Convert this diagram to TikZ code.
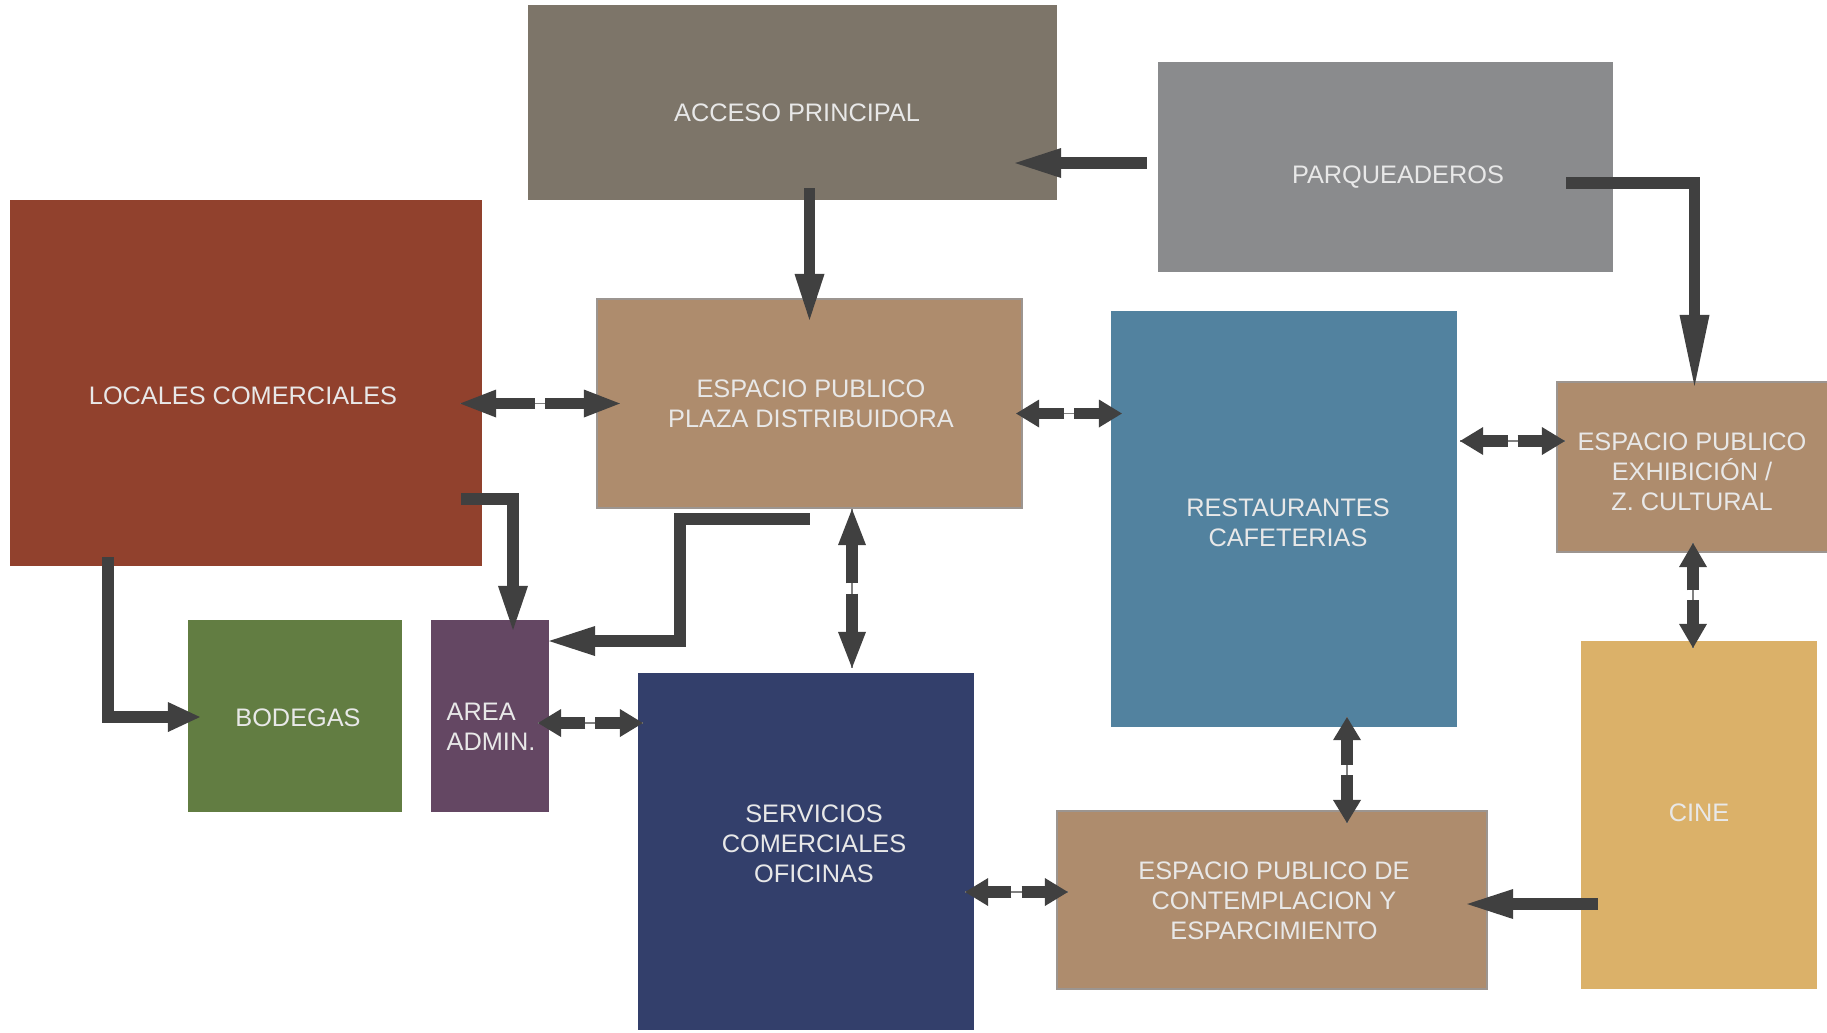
\documentclass[tikz,border=0pt]{standalone}
\usepackage{fontspec}
\setmainfont{Liberation Sans}
\usetikzlibrary{arrows.meta,calc}

\definecolor{accesogray}{HTML}{7D7569}
\definecolor{parqgray}{HTML}{8A8B8D}
\definecolor{localesred}{HTML}{91412D}
\definecolor{plazatan}{HTML}{AE8C6D}
\definecolor{tanline}{HTML}{9C9590}
\definecolor{restblue}{HTML}{52829F}
\definecolor{cineyellow}{HTML}{DBB169}
\definecolor{bodegagreen}{HTML}{627D42}
\definecolor{adminplum}{HTML}{644763}
\definecolor{servnavy}{HTML}{333F6B}
\definecolor{arrowdark}{HTML}{404040}
\definecolor{labelgray}{HTML}{E8E8E8}

\newcommand{\zonefont}{\fontsize{7.2}{8.6}\selectfont}

\tikzset{
  zone/.style={rectangle, inner sep=0pt, outer sep=0pt, fill=#1},
  tanzone/.style={zone=plazatan, draw=tanline, line width=0.6pt},
  txt/.style={text=labelgray, font=\zonefont, align=center, inner sep=0pt},
  way/.style={draw=arrowdark, line width=3.3pt},
  hairline/.style={draw=gray, line width=0.4pt},
  onetip/.style={-{Triangle[length=#1, width=3mm, line width=0pt]}},
}

% two opposed arrows, hairline in the gap between them
\newcommand{\twoway}[3][2.3mm]{%
  \draw[hairline] (#2) -- (#3);
  \coordinate (mid) at ($(#2)!.5!(#3)$);
  \draw[way,-{Triangle[length=#1, width=2.8mm, line width=0pt]}] ($(mid)!.05cm!(#2)$) -- (#2);
  \draw[way,-{Triangle[length=#1, width=2.8mm, line width=0pt]}] ($(mid)!.05cm!(#3)$) -- (#3);
}

\begin{document}
\begin{tikzpicture}[x=0.01cm,y=-0.01cm]
\fill[white] (0,0) rectangle (1827,1032);
\useasboundingbox (0,0) rectangle (1827,1032);

% zones
\node[zone=accesogray, minimum width=52.9mm, minimum height=19.5mm] (acceso) at (792.5,102.5) {};
\node[zone=parqgray, minimum width=45.5mm, minimum height=21mm] (parq) at (1385.5,167) {};
\node[zone=localesred, minimum width=47.2mm, minimum height=36.6mm] (locales) at (246,383) {};
\node[tanzone, minimum width=42.5mm, minimum height=20.9mm] (plaza) at (809.5,403.5) {};
\node[zone=restblue, minimum width=34.6mm, minimum height=41.6mm] (rest) at (1284,519) {};
\node[tanzone, minimum width=27.5mm, minimum height=17mm] (exhib) at (1694.5,467) {};
\node[zone=cineyellow, minimum width=23.6mm, minimum height=34.8mm] (cine) at (1699,815) {};
\node[zone=bodegagreen, minimum width=21.4mm, minimum height=19.2mm] (bodegas) at (295,716) {};
\node[zone=adminplum, minimum width=11.8mm, minimum height=19.2mm] (admin) at (490,716) {};
\node[zone=servnavy, minimum width=33.6mm, minimum height=35.7mm] (serv) at (806,851.5) {};
\node[tanzone, minimum width=43mm, minimum height=17.8mm] (contemp) at (1272,900) {};

% labels
\node[txt] (acceso-t) at (797,113) {ACCESO PRINCIPAL};
\node[txt] (parq-t) at (1398,177) {PARQUEADEROS};
\node[txt] (locales-t) at (243,396) {LOCALES COMERCIALES};
\node[txt] (plaza-t) at (811,404) {ESPACIO PUBLICO\\PLAZA DISTRIBUIDORA};
\node[txt] (rest-t) at (1288,523) {RESTAURANTES\\CAFETERIAS};
\node[txt] (exhib-t) at (1692,472) {ESPACIO PUBLICO\\EXHIBICIÓN /\\Z. CULTURAL};
\node[txt] (cine-t) at (1699,813) {CINE};
\node[txt] (bodegas-t) at (298,718) {BODEGAS};
\node[txt, align=left, anchor=west] (admin-t) at (446,727) {AREA\\ADMIN.};
\node[txt] (serv-t) at (814,844) {SERVICIOS\\COMERCIALES\\OFICINAS};
\node[txt] (contemp-t) at (1274,901) {ESPACIO PUBLICO DE\\CONTEMPLACION Y\\ESPARCIMIENTO};

% one-way links
\coordinate (ap1) at ($(plaza.north |- acceso.south)+(0,-12)$);
\coordinate (ap2) at ($(plaza.north)+(0,21)$);
\draw[way,onetip=4.6mm] (ap1) -- (ap2);

\coordinate (pa1) at ($(parq.west)+(-11,-4)$);
\coordinate (pa2) at ($(acceso.east |- pa1)+(-42,0)$);
\draw[way,onetip=4.6mm] (pa1) -- (pa2);

\coordinate (pe1) at ($(parq.east)+(-47,16)$);
\coordinate (pe2) at ($(exhib.north)+(0,4)$);
\draw[way,onetip=7.1mm] (pe1) -| (pe2);

\coordinate (la1) at ($(locales.east)+(-21,116)$);
\coordinate (la2) at ($(admin.north)+(23,10)$);
\draw[way,onetip=4.4mm] (la1) -| (la2);

\coordinate (pd1) at ($(plaza.south)+(0,11)$);
\coordinate (pd2) at ($(admin.east)+(0,-75)$);
\draw[way,onetip=4.6mm] (pd1) -- ++(-129.5,0) |- (pd2);

\coordinate (lb1) at ($(locales.south)+(-138,-9)$);
\coordinate (lb2) at ($(bodegas.west)+(12,1)$);
\draw[way,onetip=3.2mm] (lb1) |- (lb2);

\coordinate (cc1) at ($(cine.west)+(17,89)$);
\coordinate (cc2) at ($(contemp.east |- cc1)+(-20,0)$);
\draw[way,onetip=4.6mm] (cc1) -- (cc2);

% two-way links
\coordinate (lp1) at ($(locales.east |- plaza.west)+(-22,0)$);
\coordinate (lp2) at ($(plaza.west)+(23,0)$);
\twoway[3.6mm]{lp1}{lp2}

\coordinate (pr1) at ($(plaza.east)+(-6,10)$);
\coordinate (pr2) at ($(rest.west |- pr1)+(11,0)$);
\twoway{pr1}{pr2}

\coordinate (re1) at ($(rest.east |- exhib.west)+(3,-26)$);
\coordinate (re2) at ($(exhib.west)+(8,-26)$);
\twoway{re1}{re2}

\coordinate (ps1) at ($(plaza.south)+(42.5,1)$);
\coordinate (ps2) at ($(ps1 |- serv.north)+(0,-5)$);
\twoway[3.6mm]{ps1}{ps2}

\coordinate (as1) at ($(admin.east)+(-11,7)$);
\coordinate (as2) at ($(serv.west |- as1)+(5,0)$);
\twoway{as1}{as2}

\coordinate (rc1) at ($(rest.south)+(63,-10)$);
\coordinate (rc2) at ($(rc1 |- contemp.north)+(0,12)$);
\twoway{rc1}{rc2}

\coordinate (sc1) at ($(serv.east |- contemp.west)+(-9,-8)$);
\coordinate (sc2) at ($(contemp.west)+(11,-8)$);
\twoway{sc1}{sc2}

\coordinate (ec1) at ($(exhib.south)+(-1.5,-9)$);
\coordinate (ec2) at ($(ec1 |- cine.north)+(0,7)$);
\twoway[2.4mm]{ec1}{ec2}
\end{tikzpicture}
\end{document}
